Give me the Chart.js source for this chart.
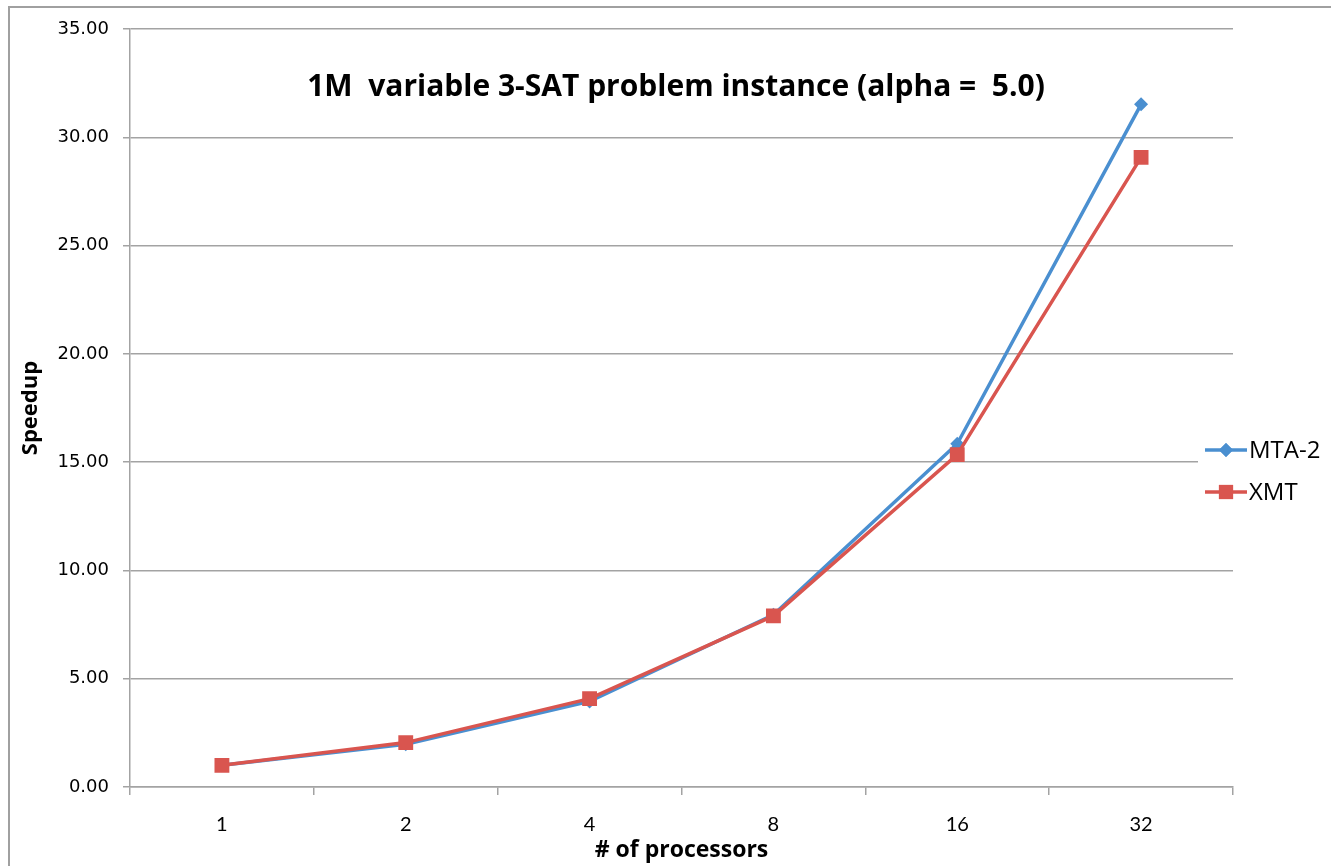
<!DOCTYPE html>
<html>
<head>
<meta charset="utf-8">
<script src="https://cdn.jsdelivr.net/npm/chart.js@4.4.1/dist/chart.umd.min.js"></script>
<style>
  body { margin: 0; background: #fff; }
  #wrap { position: relative; width: 1331px; height: 866px; }
</style>
</head>
<body>
<div id="wrap"><canvas id="mycanvas" width="1331" height="866"></canvas></div>
<script>
var processors = ["1", "2", "4", "8", "16", "32"];
var mta2 = [1.00, 1.97, 3.95, 7.95, 15.85, 31.52];
var xmt = [1.00, 2.05, 4.08, 7.90, 15.35, 29.07];
var yTicks = [0, 5, 10, 15, 20, 25, 30, 35];

var blue = "#4a8fd0";
var red = "#d9554f";
var gridGray = "#a3a3a3";

// frame, title and legend drawn on the canvas
var decorations = {
	id: "decorations",
	beforeDraw: function(chart) {
		var c = chart.ctx;
		c.save();
		c.fillStyle = "#fff";
		c.fillRect(0, 0, chart.width, chart.height);
		c.strokeStyle = "#a0a0a0";
		c.lineWidth = 2;
		c.beginPath();
		c.moveTo(9, 866);
		c.lineTo(9, 7);
		c.lineTo(1331, 7);
		c.stroke();
		c.restore();
	},
	afterDraw: function(chart) {
		var c = chart.ctx;
		c.save();
		c.fillStyle = "#000";
		c.font = "bold 30px 'Open Sans'";
		c.textAlign = "center";
		c.textBaseline = "middle";
		c.fillText("1M  variable 3-SAT problem instance (alpha =  5.0)", 676, 87);

		// legend
		c.fillStyle = "#fff";
		c.fillRect(1198, 428, 133, 84);
		var items = [
			{ label: "MTA-2", color: blue, style: "rectRot", y: 450 },
			{ label: "XMT", color: red, style: "rect", y: 492 }
		];
		items.forEach(function(it) {
			c.strokeStyle = it.color;
			c.lineWidth = 3.5;
			c.beginPath();
			c.moveTo(1205, it.y);
			c.lineTo(1247, it.y);
			c.stroke();
			c.fillStyle = it.color;
			Chart.helpers.drawPoint(c, { pointStyle: it.style, radius: it.style === "rect" ? 10 : 7, borderWidth: 0 }, 1226, it.y);
			c.fill();
			c.fillStyle = "#000";
			c.font = "24px 'Open Sans'";
			c.textAlign = "left";
			c.fillText(it.label, 1249, it.y + 1);
		});
		c.restore();
	}
};

var chartdata = {
	labels: processors,
	datasets: [
		{
			label: "MTA-2",
			data: mta2,
			borderColor: blue,
			backgroundColor: blue,
			borderWidth: 3.5,
			pointStyle: "rectRot",
			pointRadius: 7,
			pointBorderWidth: 0,
			tension: 0,
			order: 1
		},
		{
			label: "XMT",
			data: xmt,
			borderColor: red,
			backgroundColor: red,
			borderWidth: 3.5,
			pointStyle: "rect",
			pointRadius: 10.5,
			pointBorderWidth: 0,
			tension: 0,
			order: 0
		}
	]
};

var ctx = document.getElementById("mycanvas");

var LineGraph = new Chart(ctx, {
	type: "line",
	data: chartdata,
	plugins: [decorations],
	options: {
		responsive: false,
		animation: false,
		layout: { padding: { left: 10, right: 98, top: 29, bottom: 0 } },
		plugins: {
			legend: { display: false },
			tooltip: { enabled: false }
		},
		scales: {
			x: {
				offset: true,
				afterFit: function(s) { s.height = 79; },
				grid: { offset: true, drawOnChartArea: false, drawTicks: true, tickLength: 8, color: gridGray, lineWidth: 1.5 },
				border: { color: gridGray, width: 1.5 },
				ticks: { color: "#000", font: { family: "Lato", size: 20 }, padding: 18 },
				title: { display: true, text: "# of processors", color: "#000", font: { family: "Open Sans", size: 23, weight: "bold" }, padding: { top: 0, bottom: 2 } }
			},
			y: {
				min: 0,
				max: 35,
				afterFit: function(s) { s.width = 120; },
				afterBuildTicks: function(s) { s.ticks = yTicks.map(function(v) { return { value: v }; }); },
				grid: { color: gridGray, lineWidth: 1.5, tickLength: 7 },
				border: { color: gridGray, width: 1.5 },
				ticks: {
					color: "#000",
					font: { family: "DejaVu Sans", size: 18 },
					padding: 14,
					callback: function(v) { return Number(v).toFixed(2); }
				},
				title: { display: true, text: "Speedup", color: "#000", font: { family: "Open Sans", size: 22, weight: "bold" }, padding: { top: 8, bottom: 0 } }
			}
		}
	}
});
</script>
</body>
</html>
